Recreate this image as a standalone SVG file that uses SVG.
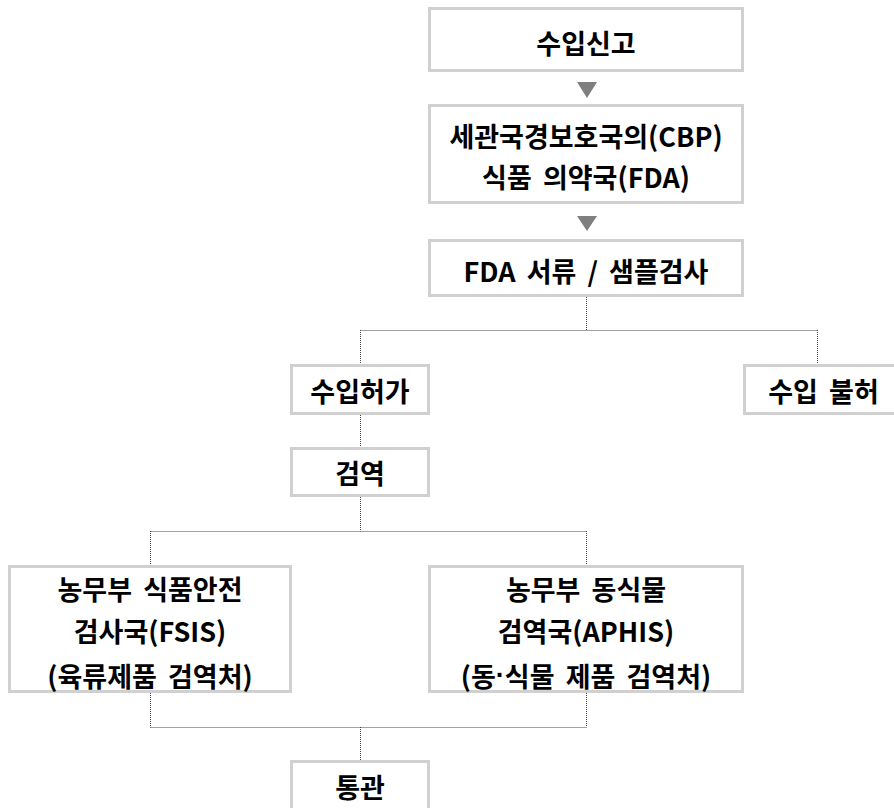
<svg xmlns="http://www.w3.org/2000/svg" width="894" height="808" viewBox="0 0 894 808">
<style>
.box{fill:#fff;stroke:#d0d0d0;stroke-width:3}
.t{font-family:"Noto Sans CJK KR","Liberation Sans",sans-serif;font-weight:bold;font-size:27px;fill:#000;text-anchor:middle;dominant-baseline:central;word-spacing:5px}
.dot{font-family:"Liberation Sans",sans-serif}
.c{fill:none;stroke:#444;stroke-width:1;stroke-dasharray:1 1}
.arr{fill:#7f7f7f}
</style>
<rect width="894" height="808" fill="#fff"/>
<g id="connectors">
<path class="c" d="M586.5 297V330.5M360.5 330.5H817.5M360.5 330V364M817.5 330V364"/>
<path class="c" d="M360.5 415V447"/>
<path class="c" d="M360.5 497V531.5M150.5 531.5H586.5M150.5 531V565M586.5 531V565"/>
<path class="c" d="M150.5 693V727.5M586.5 693V727.5M150.5 727.5H586.5M360.5 727V760"/>
<polygon class="arr" points="577,82 597,82 587,98"/>
<polygon class="arr" points="577,216 597,216 587,231"/>
</g>
<g id="n1"><rect class="box" x="429.5" y="8.5" width="313" height="62"/><text class="t" x="586" y="42">수입신고</text></g>
<g id="n2"><rect class="box" x="429.5" y="105.5" width="313" height="97"/><text class="t" x="586" y="135">세관국경보호국의(CBP)</text><text class="t" x="586" y="176">식품 의약국(FDA)</text></g>
<g id="n3"><rect class="box" x="429.5" y="240.5" width="313" height="55"/><text class="t" x="586" y="270">FDA 서류 / 샘플검사</text></g>
<g id="n4"><rect class="box" x="291.5" y="365.5" width="137" height="48"/><text class="t" x="360" y="390">수입허가</text></g>
<g id="n5"><rect class="box" x="744.5" y="365.5" width="170" height="48"/><text class="t" x="823.5" y="390">수입 불허</text></g>
<g id="n6"><rect class="box" x="291.5" y="448.5" width="137" height="47"/><text class="t" x="360" y="472">검역</text></g>
<g id="n7"><rect class="box" x="9.5" y="566.5" width="281" height="125"/><text class="t" x="150" y="588">농무부 식품안전</text><text class="t" x="150" y="630">검사국(FSIS)</text><text class="t" x="150" y="675">(육류제품 검역처)</text></g>
<g id="n8"><rect class="box" x="429.5" y="566.5" width="313" height="125"/><text class="t" x="586" y="588">농무부 동식물</text><text class="t" x="586" y="630">검역국(APHIS)</text><text class="t" x="586" y="675">(동<tspan class="dot">·</tspan>식물 제품 검역처)</text></g>
<g id="n9"><rect class="box" x="291.5" y="761.5" width="137" height="60"/><text class="t" x="360" y="786">통관</text></g>
</svg>
